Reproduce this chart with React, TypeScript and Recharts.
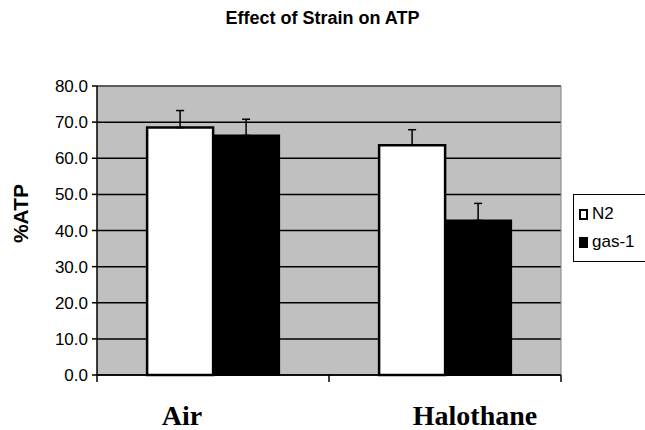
import {
  Bar,
  BarChart,
  CartesianGrid,
  ErrorBar,
  ReferenceLine,
  XAxis,
  YAxis,
} from "recharts";

const conditions = ["Air", "Halothane"];
const n2 = [68.5, 63.6];
const n2Err = [4.7, 4.3];
const gas1 = [66.3, 42.8];
const gas1Err = [4.5, 4.7];
const yTicks = [0, 10, 20, 30, 40, 50, 60, 70, 80];

const SANS = "'Liberation Sans', Arial, sans-serif";
const SERIF = "'Liberation Serif', 'Times New Roman', serif";
// nudges for the category labels, which sit off-centre in the original
const LABEL_SHIFT = [-31, 30];

const data = conditions.map((c, i) => ({
  name: c,
  N2: n2[i],
  n2Err: [0, n2Err[i]],
  "gas-1": gas1[i],
  gasErr: [0, gas1Err[i]],
}));

// Excel-style category axis: tick marks sit on the category boundaries, not the centres
function CategoryTick(props: any) {
  const { x, y, payload, index, width, visibleTicksCount } = props;
  const band = width / visibleTicksCount;
  const left = x - band / 2;
  return (
    <g>
      <line x1={left} y1={y} x2={left} y2={y + 7} stroke="#000" strokeWidth={1.5} />
      {index === visibleTicksCount - 1 && (
        <line x1={left + band} y1={y} x2={left + band} y2={y + 7} stroke="#000" strokeWidth={1.5} />
      )}
      <text
        x={x + (LABEL_SHIFT[index] ?? 0)}
        y={y + 50}
        textAnchor="middle"
        fontFamily={SERIF}
        fontWeight="bold"
        fontSize={28}
        fill="#000"
      >
        {payload.value}
      </text>
    </g>
  );
}

function LegendBox() {
  const items = [
    { name: "N2", fill: "#fff" },
    { name: "gas-1", fill: "#000" },
  ];
  return (
    <div
      style={{
        position: "absolute",
        left: 573,
        top: 194,
        border: "1px solid #000",
        background: "#fff",
        padding: "5px 4px 5px 5px",
        fontFamily: SANS,
        fontSize: 17,
        width: 76,
        boxSizing: "border-box",
      }}
    >
      {items.map((it) => (
        <div key={it.name} style={{ display: "flex", alignItems: "center", height: 28 }}>
          <span
            style={{
              display: "inline-block",
              width: 9,
              height: 11,
              border: "2px solid #000",
              background: it.fill,
              boxSizing: "border-box",
              marginRight: 4,
            }}
          />
          {it.name}
        </div>
      ))}
    </div>
  );
}

export default function App() {
  return (
    <div style={{ position: "absolute", left: 0, top: 0, width: 645, height: 430, background: "#fff", overflow: "hidden" }}>
      <div
        style={{
          position: "absolute",
          top: 8,
          left: 0,
          width: 645,
          textAlign: "center",
          fontFamily: SANS,
          fontWeight: "bold",
          fontSize: 18,
        }}
      >
        Effect of Strain on ATP
      </div>
      <BarChart
        width={645}
        height={430}
        data={data}
        margin={{ top: 86, right: 84, bottom: 0, left: 0 }}
        barCategoryGap="21.6%"
        barGap={0}
      >
        <CartesianGrid vertical={false} fill="#c0c0c0" stroke="#000" strokeWidth={1.5} fillOpacity={1} />
        {/* grey frame on the right edge of the plot area */}
        <CartesianGrid
          horizontal={false}
          stroke="#808080"
          verticalCoordinatesGenerator={({ offset }: any) => [offset.left + offset.width]}
        />
        <XAxis
          dataKey="name"
          tickLine={false}
          tickSize={0}
          tickMargin={0}
          tick={<CategoryTick />}
          height={55}
          interval={0}
          stroke="#000"
          strokeWidth={1.5}
        />
        <YAxis
          width={97}
          domain={[0, 80]}
          ticks={yTicks}
          interval={0}
          tickFormatter={(v: number) => v.toFixed(1)}
          tick={{ fontFamily: SANS, fontSize: 17, fill: "#000" }}
          tickSize={5}
          tickMargin={4}
          stroke="#000"
          strokeWidth={1.5}
          label={(p: any) => {
            const vb = p.viewBox;
            const cx = vb.x + 20;
            const cy = vb.y + vb.height / 2 - 17;
            return (
              <text
                x={cx}
                y={cy}
                transform={`rotate(-90 ${cx} ${cy})`}
                textAnchor="middle"
                dominantBaseline="central"
                fontFamily={SANS}
                fontWeight="bold"
                fontSize={21}
                fill="#000"
              >
                %ATP
              </text>
            );
          }}
        />
        <ReferenceLine y={80} stroke="#808080" />
        <Bar dataKey="N2" fill="#fff" stroke="#000" strokeWidth={2.5} isAnimationActive={false}>
          <ErrorBar dataKey="n2Err" width={4} stroke="#000" strokeWidth={1.5} direction="y" />
        </Bar>
        <Bar dataKey="gas-1" fill="#000" stroke="#000" strokeWidth={2} isAnimationActive={false}>
          <ErrorBar dataKey="gasErr" width={4} stroke="#000" strokeWidth={1.5} direction="y" />
        </Bar>
      </BarChart>
      <LegendBox />
    </div>
  );
}
